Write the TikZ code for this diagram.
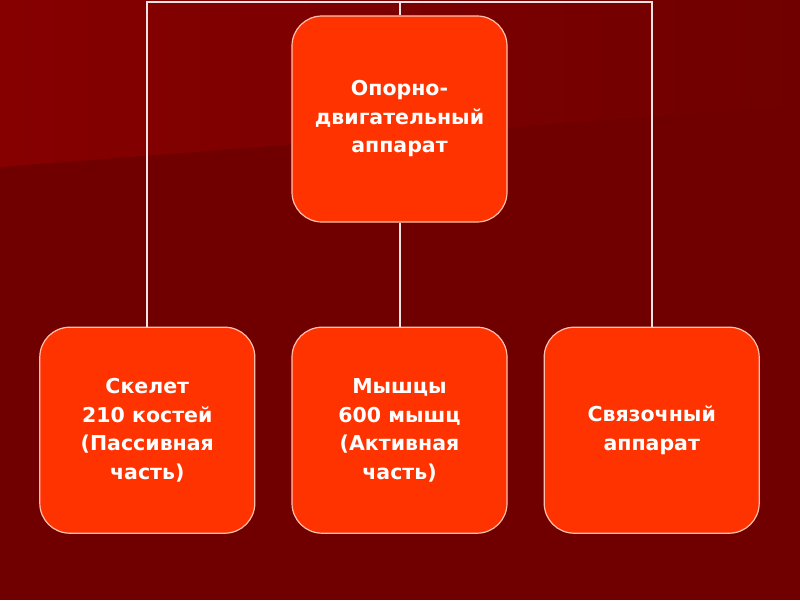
\documentclass[tikz,border=0pt]{standalone}
\usepackage{fontspec}
\setmainfont{DejaVu Sans}
\usepackage{xcolor}
\usetikzlibrary{positioning}

\definecolor{slidebg}{HTML}{700000}
\definecolor{slideband}{HTML}{860000}
\definecolor{boxfill}{HTML}{FF3300}
\definecolor{boxline}{HTML}{FFC0B0}
\definecolor{wirecol}{HTML}{F2E2E2}

\begin{document}
\begin{tikzpicture}[
  x=1pt,y=-1pt,
  font=\bfseries\fontsize{20.5}{28.5}\selectfont,
  node distance=104pt and 36pt,
  box/.style={draw=boxline,line width=1.2pt,fill=boxfill,text=white,
    rounded corners=30pt,align=center,inner sep=4pt,
    minimum width=215pt,minimum height=206pt},
  wire/.style={draw=wirecol,line width=2pt}
]
% background
\fill[slidebg] (0,0) rectangle (800,600);
\shade[left color=slideband,right color=slidebg] (0,0) -- (800,0) -- (800,105) -- (0,167) -- cycle;
\useasboundingbox (0,0) rectangle (800,600);

\node[box] (oda) at (399.5,119) {Опорно-\\двигательный\\аппарат};
\node[box,below=of oda] (muscle) {Мышцы\\600 мышц\\(Активная\\часть)};
\node[box,left=of muscle] (skel) {Скелет\\210 костей\\(Пассивная\\часть)};
\node[box,right=of muscle] (lig) {Связочный\\аппарат};

\coordinate (rail) at (399.5,1.5);
\draw[wire] (oda.north) -- (rail);
\draw[wire] (skel.north) |- (rail) -| (lig.north);
\draw[wire] (oda.south) -- (muscle.north);
\end{tikzpicture}
\end{document}
